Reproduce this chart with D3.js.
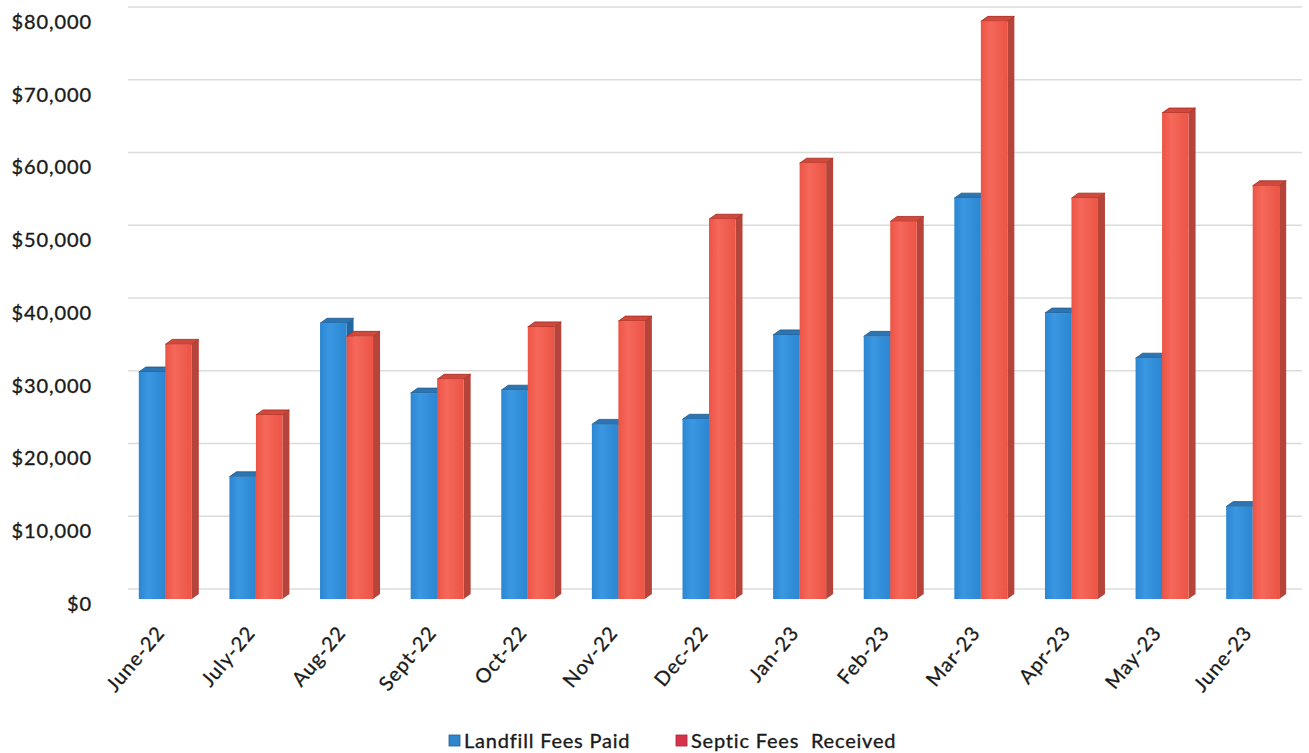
<!DOCTYPE html>
<html>
<head>
<meta charset="utf-8">
<script src="https://cdn.jsdelivr.net/npm/d3@7"></script>
<style>
  html, body { margin: 0; padding: 0; background: #ffffff; }
  svg { display: block; font-family: Lato, "Open Sans", sans-serif; }
</style>
</head>
<body>
<svg id="chart" width="1309" height="753"></svg>
<script>
// Monthly fees, June 2022 – June 2023
const months = ["June-22", "July-22", "Aug-22", "Sept-22", "Oct-22", "Nov-22", "Dec-22",
                "Jan-23", "Feb-23", "Mar-23", "Apr-23", "May-23", "June-23"];
const seriesNames = ["Landfill Fees Paid", "Septic Fees  Received"];
const landfillFees = [31200, 16800, 37900, 28300, 28700, 24000, 24700, 36300, 36100, 55100, 39300, 33100, 12700];
const septicFees   = [35000, 25300, 36100, 30200, 37400, 38200, 52200, 59900, 51900, 79400, 55100, 66800, 56800];
const yTicks = [0, 10000, 20000, 30000, 40000, 50000, 60000, 70000, 80000];

const svg = d3.select("#chart");

// Extruded-bar geometry (depth offset of the 3-D effect)
const depthX = 7, depthY = 5, wallShift = 10;

const x0 = d3.scaleBand().domain(months).range([120, 1298]);
const groupW = x0.bandwidth() * 0.585;
const x1 = d3.scaleBand().domain(seriesNames).range([0, groupW]);
const y = d3.scaleLinear().domain([0, 80000]).range([599, 17]);

const palettes = [
  { front: ["#3a97e2", "#2c86d2"], side: "#2367a2", top: "#2d74b2", edge: "#1f5a8c", legend: "#2f86cc" },
  { front: ["#f5685a", "#ec5445"], side: "#b6443a", top: "#cf4a3c", edge: "#a3241c", legend: "#d7334a" }
];
const textColor = "#1a1a1a";

// front-face gradients
const defs = svg.append("defs");
palettes.forEach((p, i) => {
  const g = defs.append("linearGradient").attr("id", "front" + i)
    .attr("x1", "0%").attr("x2", "100%").attr("y1", "0%").attr("y2", "0%");
  g.append("stop").attr("offset", "0%").attr("stop-color", p.front[1]);
  g.append("stop").attr("offset", "35%").attr("stop-color", p.front[0]);
  g.append("stop").attr("offset", "100%").attr("stop-color", p.front[1]);
});

// back-wall gridlines
svg.append("g").attr("class", "grid")
  .selectAll("line").data(yTicks).join("line")
  .attr("x1", 128).attr("x2", 1302)
  .attr("y1", d => y(d) - wallShift).attr("y2", d => y(d) - wallShift)
  .attr("stroke", "#dcdcdc").attr("stroke-width", 1.5);

// y axis labels
const yAxis = d3.axisLeft(y).tickValues(yTicks).tickSize(0).tickPadding(0)
  .tickFormat(d => "$" + d3.format(",")(d));
const yG = svg.append("g").attr("transform", "translate(92,5)").call(yAxis);
yG.select(".domain").remove();
yG.selectAll("text").attr("font-size", 20).attr("fill", textColor)
  .attr("stroke", textColor).attr("stroke-width", 0.35)
  .attr("letter-spacing", "0.9px")
  .attr("font-family", "Lato, sans-serif");

// bars
const rows = months.map((m, i) => ({ month: m, values: [landfillFees[i], septicFees[i]] }));
const groups = svg.append("g").selectAll("g.month").data(rows).join("g")
  .attr("class", "month")
  .attr("transform", d => `translate(${x0(d.month) + (x0.bandwidth() - groupW) / 2},0)`);

const barW = x1.bandwidth();
groups.each(function (row) {
  const g = d3.select(this);
  row.values.forEach((v, si) => {
    const p = palettes[si];
    const xl = x1(seriesNames[si]);
    const xr = xl + barW;
    const yt = y(v), yb = y(0);
    // side face
    g.append("path")
      .attr("d", `M${xr},${yt} L${xr + depthX},${yt - depthY} L${xr + depthX},${yb - depthY} L${xr},${yb} Z`)
      .attr("fill", p.side);
    // top face
    g.append("path")
      .attr("d", `M${xl},${yt} L${xl + depthX},${yt - depthY} L${xr + depthX},${yt - depthY} L${xr},${yt} Z`)
      .attr("fill", p.top).attr("stroke", p.edge).attr("stroke-width", 0.8);
    // front face
    g.append("rect")
      .attr("x", xl).attr("y", yt).attr("width", barW).attr("height", yb - yt)
      .attr("fill", `url(#front${si})`);
  });
});

// category labels
const xAxis = d3.axisBottom(x0).tickSize(0).tickPadding(0);
const xG = svg.append("g").attr("transform", "translate(-5,629)").call(xAxis);
xG.select(".domain").remove();
xG.selectAll("text")
  .attr("font-size", 20).attr("fill", textColor).attr("font-family", "Lato, sans-serif")
  .attr("stroke", textColor).attr("stroke-width", 0.3)
  .attr("letter-spacing", "0.9px")
  .attr("text-anchor", "end").attr("dy", "0.35em")
  .attr("transform", "rotate(-50)");

// legend
const legend = svg.append("g").attr("transform", "translate(0,741)");
const legendX = [449, 676];
seriesNames.forEach((name, i) => {
  legend.append("rect").attr("x", legendX[i]).attr("y", -6).attr("width", 11).attr("height", 11)
    .attr("fill", palettes[i].legend).attr("stroke", i === 0 ? "#1f5f99" : "#a8263a").attr("stroke-width", 0.8);
  legend.append("text").attr("x", legendX[i] + 15).attr("y", 0).attr("dy", "0.35em")
    .attr("font-size", 20).attr("fill", textColor)
    .attr("stroke", textColor).attr("stroke-width", 0.35)
    .attr("letter-spacing", "0.8px")
    .attr("xml:space", "preserve").style("white-space", "pre")
    .text(name);
});
</script>
</body>
</html>
